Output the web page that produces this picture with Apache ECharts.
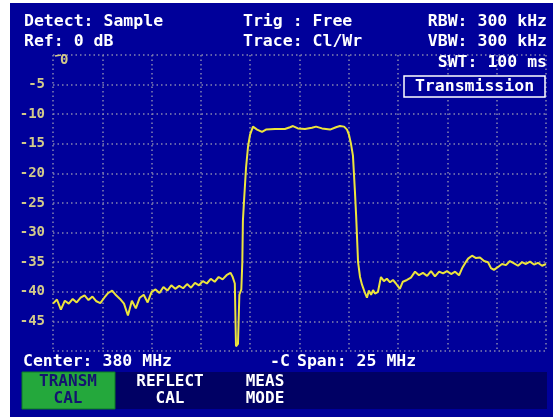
<!DOCTYPE html>
<html>
<head>
<meta charset="utf-8">
<script src="https://cdn.jsdelivr.net/npm/echarts@6/dist/echarts.min.js"></script>
<style>
  html, body { margin: 0; padding: 0; background: #fff; }
  #chart { width: 555px; height: 417px; }
</style>
</head>
<body>
<div id="chart"></div>
<script>
// sweep: center 380 MHz, span 25 MHz
const freqMHz = [
  367.5, 367.7, 367.9, 368.1, 368.3, 368.5, 368.7, 368.9, 369.1, 369.3,
  369.5, 369.7, 369.9, 370.1, 370.3, 370.5, 370.7, 370.9, 371.1, 371.3,
  371.5, 371.7, 371.9, 372.1, 372.3, 372.5, 372.7, 372.9, 373.1, 373.3,
  373.5, 373.7, 373.9, 374.1, 374.3, 374.5, 374.7, 374.9, 375.1, 375.3,
  375.5, 375.7, 375.9, 376.1, 376.3, 376.5, 376.6, 376.72, 376.78, 376.88,
  376.95, 377.05, 377.1, 377.13, 377.19, 377.29, 377.39, 377.49, 377.64, 377.85,
  378.1, 378.3, 378.76, 379.26, 379.52, 379.67, 379.92, 380.28, 380.63, 380.84,
  381.14, 381.55, 381.85, 382.05, 382.26, 382.41, 382.51, 382.61, 382.71, 382.76,
  382.81, 382.87, 382.92, 382.97, 383.07, 383.17, 383.32, 383.42, 383.52, 383.63,
  383.73, 383.83, 383.98, 384.13, 384.28, 384.43, 384.59, 384.74, 384.89, 385.09,
  385.24, 385.45, 385.65, 385.86, 386.06, 386.26, 386.47, 386.67, 386.87, 387.08,
  387.28, 387.48, 387.69, 387.89, 388.09, 388.25, 388.39, 388.55, 388.75, 388.95,
  389.15, 389.36, 389.56, 389.71, 389.86, 390.07, 390.27, 390.47, 390.67, 390.88,
  391.08, 391.28, 391.48, 391.69, 391.89, 392.09, 392.3, 392.5
];
const levelDb = [
  -42.0, -41.3, -43.0, -41.5, -42.0, -41.2, -41.8, -41.0, -40.6, -41.4,
  -40.8, -41.6, -41.9, -41.0, -40.2, -39.8, -40.6, -41.2, -42.0, -44.0,
  -41.5, -42.8, -41.0, -40.5, -41.8, -40.0, -39.6, -40.2, -39.2, -39.8,
  -38.9, -39.5, -39.0, -39.4, -38.7, -39.3, -38.5, -38.9, -38.2, -38.6,
  -37.8, -38.3, -37.5, -37.9, -37.2, -36.8, -37.4, -38.6, -49.2, -48.8,
  -40.5, -39.6, -35.0, -28.0, -24.5, -19.0, -15.5, -13.5, -12.1, -12.6,
  -13.0, -12.6, -12.5, -12.5, -12.2, -12.0, -12.4, -12.5, -12.3, -12.1,
  -12.4, -12.6, -12.2, -12.0, -12.1, -12.6, -13.5, -15.0, -17.0, -20.0,
  -23.0, -27.0, -31.0, -35.0, -37.5, -38.8, -40.2, -41.0, -39.8, -40.5,
  -39.7, -40.3, -40.0, -37.5, -38.2, -37.8, -38.4, -38.0, -38.6, -39.5,
  -38.3, -38.0, -37.6, -36.6, -37.2, -36.8, -37.3, -36.5, -37.4, -36.6,
  -36.9, -36.5, -37.0, -36.6, -37.2, -36.0, -35.2, -34.4, -33.9, -34.3,
  -34.2, -34.8, -35.0, -36.0, -36.3, -35.8, -35.3, -35.5, -34.8, -35.2,
  -35.6, -35.0, -35.3, -34.9, -35.4, -35.1, -35.6, -35.3
];
const levelTicks = ['0', '-5', '-10', '-15', '-20', '-25', '-30', '-35', '-40', '-45', '-50'];
const headerLeft = ['Detect: Sample', 'Ref: 0 dB'];
const headerMid = ['Trig : Free', 'Trace: Cl/Wr'];
const headerRight = ['RBW: 300 kHz', 'VBW: 300 kHz', 'SWT: 100 ms'];
const modeLabel = 'Transmission';
const footerLeft = 'Center: 380 MHz';
const footerMid = 'Span: 25 MHz';
const softkeys = [['TRANSM', 'CAL'], ['REFLECT', 'CAL'], ['MEAS', 'MODE']];

const BLUE = '#00009a';
const TXT = '#ffffff';
const TICK = '#d2c98a';
const FONT = 'DejaVu Sans Mono';
const HFONT = 'bold 16.5px ' + FONT;

const chart = echarts.init(document.getElementById('chart'));

const trace = freqMHz.map((f, i) => [f, levelDb[i]]);

function txt(x, y, s, align, fill, font) {
  return {
    type: 'text', x: x, y: y, z: 6,
    style: { text: s, fill: fill || TXT, font: font || HFONT, textAlign: align || 'left', textVerticalAlign: 'middle' }
  };
}

const graphics = [
  { type: 'rect', shape: { x: 10, y: 3, width: 543, height: 414 }, style: { fill: BLUE }, z: -10 },
  txt(24, 22, headerLeft[0]), txt(24, 42, headerLeft[1]),
  txt(243, 22, headerMid[0]), txt(243, 42, headerMid[1]),
  txt(547, 22, headerRight[0], 'right'),
  txt(547, 42, headerRight[1], 'right'),
  txt(547, 63, headerRight[2], 'right'),
  { type: 'rect', shape: { x: 404, y: 76, width: 141, height: 21 }, style: { fill: BLUE, stroke: '#fff', lineWidth: 1.5 }, z: 5 },
  txt(474.5, 87, modeLabel, 'center'),
  txt(60, 60, levelTicks[0], 'left', TICK, 'bold 14px ' + FONT),
  { type: 'line', shape: { x1: 55, y1: 56, x2: 61, y2: 55 }, style: { stroke: TICK, lineWidth: 1.5 }, z: 6 },
  txt(23, 362, footerLeft),
  txt(270, 362, '-C'),
  txt(297, 362, footerMid),
  { type: 'rect', shape: { x: 22, y: 372, width: 525, height: 37 }, style: { fill: '#000064' } },
  { type: 'rect', shape: { x: 22, y: 372, width: 93, height: 37 }, style: { fill: '#24a83c', stroke: '#0c7a24', lineWidth: 1 } }
];
const keyCenters = [68, 170, 265];
softkeys.forEach((k, i) => {
  const col = i === 0 ? '#141470' : TXT;
  graphics.push(txt(keyCenters[i], 382, k[0], 'center', col, 'bold 16px ' + FONT));
  graphics.push(txt(keyCenters[i], 399, k[1], 'center', col, 'bold 16px ' + FONT));
});

const option = {
  backgroundColor: '#ffffff',
  animation: false,
  grid: { left: 53, top: 55, width: 493, height: 296 },
  xAxis: {
    type: 'value', min: 367.5, max: 392.5, interval: 2.5,
    axisLine: { show: false }, axisTick: { show: false }, axisLabel: { show: false },
    splitLine: { show: true, lineStyle: { color: '#8585b0', type: [1.5, 3], width: 1.5 } }
  },
  yAxis: {
    type: 'value', min: -50, max: 0, interval: 5,
    axisLine: { show: false }, axisTick: { show: false },
    axisLabel: {
      color: TICK, fontFamily: FONT, fontWeight: 'bold', fontSize: 14, margin: 8,
      formatter: v => (v === 0 || v === -50) ? '' : String(v)
    },
    splitLine: { show: true, lineStyle: { color: '#8585b0', type: [1.5, 3], width: 1.5 } }
  },
  series: [{
    type: 'line', data: trace, showSymbol: false,
    lineStyle: { color: '#ece43c', width: 2 }
  }],
  graphic: graphics
};
chart.setOption(option);
</script>
</body>
</html>
